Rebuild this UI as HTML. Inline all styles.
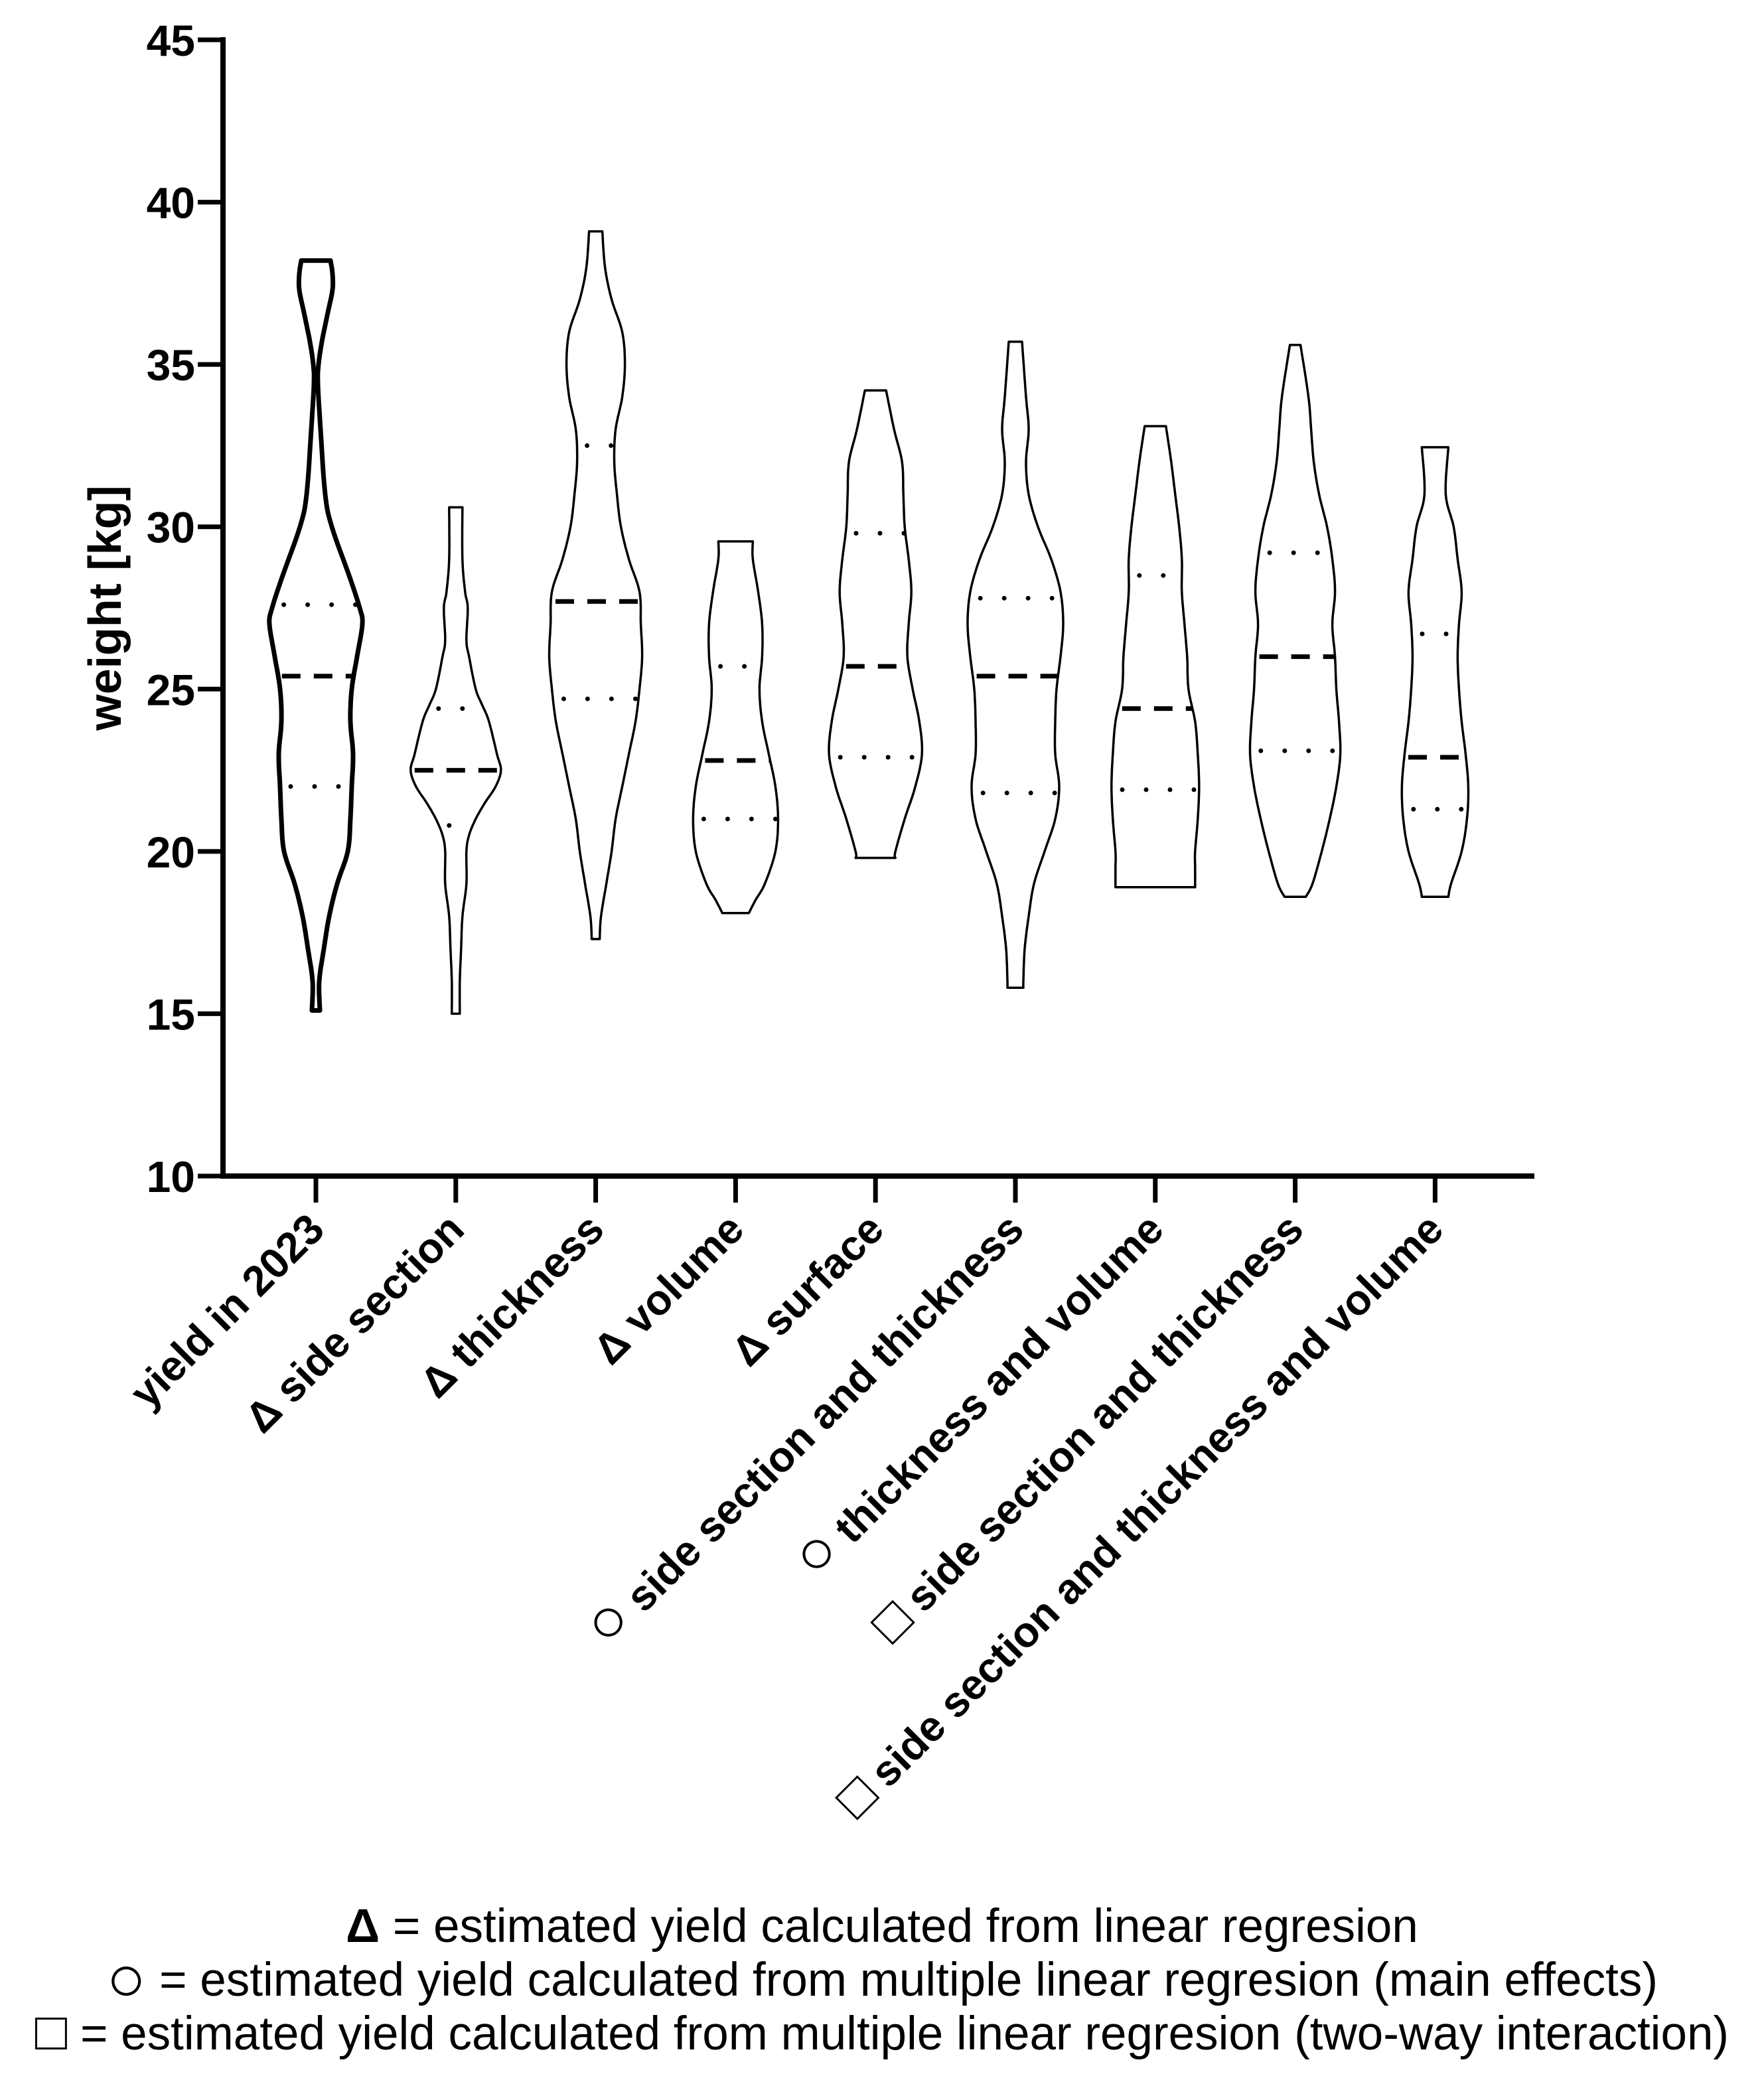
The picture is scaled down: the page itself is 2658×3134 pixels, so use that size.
<!DOCTYPE html>
<html><head><meta charset="utf-8"><style>
html,body{margin:0;padding:0;background:#fff}
svg{display:block}
text{font-family:"Liberation Sans","DejaVu Sans",sans-serif;fill:#000}
</style></head><body>
<svg id="chart" width="2658" height="3134" viewBox="0 0 2658 3134" xmlns="http://www.w3.org/2000/svg">
<g id="axes"></g>
<g id="violins"></g>
<g id="xlabels"></g>
<text x="0" y="0" transform="translate(182,916) rotate(-90)" text-anchor="middle" font-size="70" font-weight="bold">weight [kg]</text>
<g font-size="71" text-anchor="middle">
<text x="1329" y="2926"><tspan font-weight="bold">Δ</tspan> = estimated yield calculated from linear regresion</text>
<text x="1329" y="3007"><tspan font-size="100" dy="8">○</tspan><tspan dy="-8"> = estimated yield calculated from multiple linear regresion (main effects)</tspan></text>
<text x="1329" y="3088"><tspan font-size="80">□</tspan> = estimated yield calculated from multiple linear regresion (two-way interaction)</text>
</g>
</svg>
<script>
const categories = ["yield in 2023","Δ side section","Δ thickness","Δ volume","Δ surface","○ side section and thickness","○ thickness and volume","□ side section and thickness","□ side section and thickness and volume"];
const yTicks = [10,15,20,25,30,35,40,45];
const medians = [25.4,22.5,27.7,22.8,25.7,25.4,24.4,26.0,22.9];
const q1s = [22.0,20.8,24.7,21.0,22.9,21.8,21.9,23.1,21.3];
const q3s = [27.6,24.4,32.5,25.7,29.8,27.8,28.5,29.2,26.7];
const profile0 = [[38.2,11],[37.8,12.5],[37.3,12.5],[36.6,9],[35.7,4.5],[35,2],[34.4,1.5],[33,3.5],[31,7],[30,12],[28.5,25],[27.5,33],[27,35],[26,31],[25,27],[24,26],[23,28],[22,27],[21,26],[20,24],[19,16],[18,10],[17,6],[16,2.5],[15.1,3]];
const profile1 = [[30.6,5],[29,5],[28,7],[27.5,9],[26.5,8],[26,10],[25,15],[24.5,20],[24,25],[23,31],[22.5,34],[22,30],[21.5,22],[21,15],[20.5,10],[20,8],[19,8],[18,5],[17,4],[16,3],[15,3]];
const profile2 = [[39.1,5],[38,7],[37,12],[36,20],[35,22],[34,20],[33,15],[32,14],[31,16],[30,19],[29,25],[28,33],[27,34],[26,35],[25,33],[24,30],[23,25],[22,20],[21,15],[20,12],[19,8],[18,4],[17.3,3]];
const profile3 = [[29.55,13],[29,13],[28,17],[27,20],[26,20],[25,18],[24,20],[23,25],[22,30],[21,32],[20,30],[19,22],[18.5,15],[18.1,10]];
const profile4 = [[34.2,8],[33,14],[32,20],[31,21],[30,22],[29,25],[28,27],[27,25],[26,24],[25,28],[24,33],[23,35],[22,30],[21,22],[20,15],[19.8,15]];
const profile5 = [[35.7,5],[34,8],[33,10],[32,8],[31,10],[30,17],[29,27],[28,34],[27,36],[26,34],[25,31],[24,30],[23,30],[22,33],[21,30],[20,22],[19,14],[18,10],[17,7],[16,6],[15.8,6]];
const profile6 = [[33.1,8],[32,12],[31,15],[30,18],[29,20],[28,20],[27,22],[26,24],[25,25],[24,30],[23,32],[22,33],[21,32],[20,30],[19.5,30],[18.9,30]];
const profile7 = [[35.6,4],[34,10],[33,12],[32,14],[31,18],[30,24],[29,28],[28,30],[27,28],[26,30],[25,31],[24,33],[23,34],[22,31],[21,26],[20,20],[19,13],[18.6,8]];
const profile8 = [[32.45,10],[31,8],[30,14],[29,17],[28,20],[27,18],[26,17],[25,18],[24,20],[23,23],[22,25],[21,24],[20,20],[19,12],[18.6,10]];
const profiles = [profile0,profile1,profile2,profile3,profile4,profile5,profile6,profile7,profile8];

const NS="http://www.w3.org/2000/svg";
const X0=336, X1=2312, Y0=1772, Y1=60, VMIN=10, VMAX=45;
const yScale = v => Y0 - (v-VMIN)/(VMAX-VMIN)*(Y0-Y1);
const xScale = i => 476 + i*210.8;
const wScale = w => w*2;
function mk(tag, attrs, parent){const e=document.createElementNS(NS,tag);for(const k in attrs)e.setAttribute(k,attrs[k]);parent.appendChild(e);return e;}

const axes=document.getElementById('axes');
const yAxis = mk('line',{x1:X0,y1:Y1-4,x2:X0,y2:Y0+4,stroke:'#000','stroke-width':8},axes);


const xAxis = mk('line',{x1:X0-4,y1:Y0,x2:X1,y2:Y0,stroke:'#000','stroke-width':8},axes);


yTicks.forEach(t=>{
  const y=yScale(t);
  const tk=mk('line',{x1:298,y1:y,x2:X0,y2:y,stroke:'#000','stroke-width':7},axes);
  
  
  const lb=mk('text',{x:294,y:y+24,'text-anchor':'end','font-size':66,'font-weight':'bold'},axes);
  
  
  lb.textContent=t;
});

const xl=document.getElementById('xlabels');
categories.forEach((c,i)=>{
  const x=xScale(i);
  const tk=mk('line',{x1:x,y1:Y0,x2:x,y2:1812,stroke:'#000','stroke-width':7},axes);
  
  
  const lb=mk('text',{x:0,y:0,transform:`translate(${x+16},${1856}) rotate(-45)`,'text-anchor':'end','font-size':64,'font-weight':'bold'},xl);
  
  
  const sym=c[0];
  if(sym==='○'||sym==='□'){
    const s=mk('tspan',{'font-size':sym==='○'?96:80,'font-weight':'normal'},lb);
    s.textContent=sym;
    const r=mk('tspan',{},lb);
    r.textContent=c.slice(1);
  } else lb.textContent=c;
});

function halfAt(p,v){
  for(let k=0;k<p.length-1;k++){
    const a=p[k],b=p[k+1];
    if(v<=a[0]&&v>=b[0]){const t=(a[0]-v)/(a[0]-b[0]);return a[1]+(b[1]-a[1])*t;}
  }
  return 0;
}
function smoothPts(p){
  const out=[];
  for(let k=0;k<p.length-1;k++){
    const p0=p[Math.max(k-1,0)],p1=p[k],p2=p[k+1],p3=p[Math.min(k+2,p.length-1)];
    for(let s=0;s<8;s++){
      const t=s/8,t2=t*t,t3=t2*t;
      const f=(a,b,c,d)=>0.5*((2*b)+(-a+c)*t+(2*a-5*b+4*c-d)*t2+(-a+3*b-3*c+d)*t3);
      out.push([f(p0[0],p1[0],p2[0],p3[0]),Math.max(0.5,f(p0[1],p1[1],p2[1],p3[1]))]);
    }
  }
  out.push(p[p.length-1]);
  return out;
}
const vg=document.getElementById('violins');
profiles.forEach((p,i)=>{
  const cx=xScale(i);
  const pts=smoothPts(p);
  const right=pts.map(q=>`${(cx+wScale(q[1])).toFixed(1)},${yScale(q[0]).toFixed(1)}`);
  const left=pts.slice().reverse().map(q=>`${(cx-wScale(q[1])).toFixed(1)},${yScale(q[0]).toFixed(1)}`);
  const sw = i===0?7:3.5;
  const g=mk('g',{},vg);
  
  
  const path=mk('path',{d:'M'+right.join(' L')+' L'+left.join(' L')+' Z',fill:'#fff',stroke:'#000','stroke-width':sw,'stroke-linejoin':'round'},g);
  
  
  const hm=wScale(halfAt(p,medians[i]));
  const med=mk('line',{x1:cx-hm,y1:yScale(medians[i]),x2:cx+hm,y2:yScale(medians[i]),stroke:'#000','stroke-width':7,'stroke-dasharray':'28,20','stroke-dashoffset':'-6'},g);
  
  
  [q1s[i],q3s[i]].forEach(q=>{
    const h=wScale(halfAt(p,q));
    const ql=mk('line',{x1:cx-h,y1:yScale(q),x2:cx+h,y2:yScale(q),stroke:'#000','stroke-width':7,'stroke-dasharray':'0,36','stroke-linecap':'round','stroke-dashoffset':'-16'},g);
    
    
  });
});
</script>
</body></html>
